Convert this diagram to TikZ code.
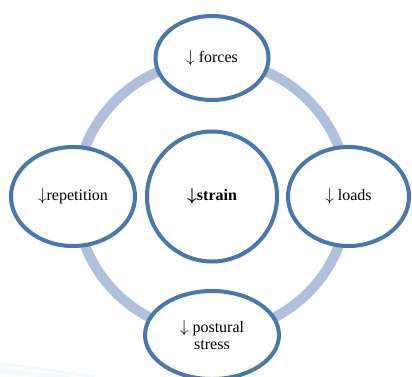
\documentclass[tikz,border=0pt]{standalone}
\usepackage{fontspec}
\setmainfont{Liberation Serif}
\usetikzlibrary{shapes.geometric}

\definecolor{ringblue}{HTML}{B0C0DC}
\definecolor{edgeblue}{HTML}{4A76AE}

\begin{document}
\begin{tikzpicture}[
    x=1pt, y=-1pt,
    bubble/.style={
        ellipse,
        draw=edgeblue,
        fill=white,
        line width=4pt,
        inner sep=0pt,
        align=center,
        font=\fontsize{16}{17}\selectfont
    },
    ring/.style={draw=ringblue, line width=10pt}
]
\useasboundingbox (0,0) rectangle (412,376);

% faint background swoosh
\draw[cyan!6, line width=3pt] (0,364) .. controls (30,367) and (60,372) .. (95,377);
\draw[cyan!5, line width=5pt] (0,371) .. controls (25,373) and (45,375) .. (70,378);

% Ring
\coordinate (hub) at (212,196.5);
\draw[ring] (hub) circle (136);

% Center
\node[bubble, minimum width=130pt, minimum height=130pt] (strain) at (hub)
    {\textbf{\boldmath$\downarrow$strain}};

% Outer bubbles
\node[bubble, minimum width=113pt, minimum height=84pt] (forces) at (212,58)
    {$\downarrow$ forces};
\node[bubble, minimum width=121pt, minimum height=99pt] (loads) at (348.5,196.5)
    {$\downarrow$ loads};
\node[bubble, minimum width=134pt, minimum height=88pt] (stress) at (212,335)
    {$\downarrow$ postural\\stress};
\node[bubble, minimum width=124pt, minimum height=99pt] (repetition) at (73,196.5)
    {$\downarrow$repetition};

\end{tikzpicture}
\end{document}
